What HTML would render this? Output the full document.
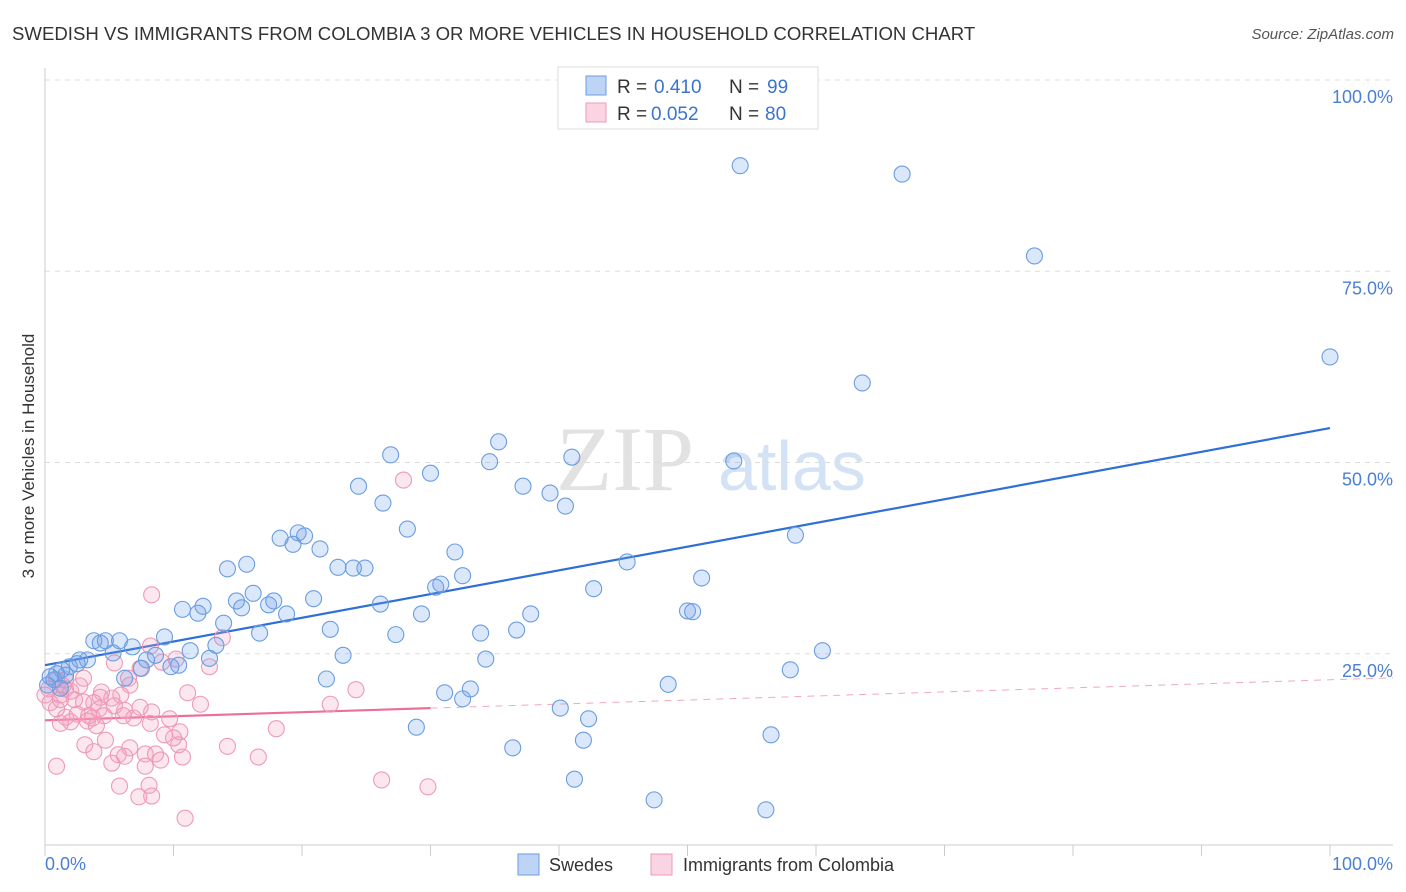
<!DOCTYPE html>
<html><head><meta charset="utf-8"><style>
body{margin:0;background:#fff;font-family:"Liberation Sans",sans-serif;}
svg{display:block}
</style></head><body>
<svg id="chart" width="1406" height="892" xmlns="http://www.w3.org/2000/svg">
<text x="12" y="40" font-size="18.6" fill="#333">SWEDISH VS IMMIGRANTS FROM COLOMBIA 3 OR MORE VEHICLES IN HOUSEHOLD CORRELATION CHART</text>
<text x="1394" y="39" font-size="15" fill="#555" font-style="italic" text-anchor="end">Source: ZipAtlas.com</text>
<g>
<text x="556" y="490" font-size="92" fill="#e2e2e2" font-family="Liberation Serif,serif">ZIP</text>
<text x="718" y="490" font-size="70" fill="#d3e2f5">atlas</text>
</g>
<g id="grid"></g><g id="axes"></g><g id="trends"></g><g id="points"></g>
<text transform="translate(34,456) rotate(-90)" font-size="17" fill="#333" text-anchor="middle">3 or more Vehicles in Household</text>
<g>
<rect x="558" y="67" width="260" height="62" fill="#fff" stroke="#ddd"/>
<rect x="586" y="76" width="20" height="19" fill="rgba(110,160,235,0.45)" stroke="#6a9de0"/>
<rect x="586" y="103" width="20" height="19" fill="rgba(245,160,190,0.45)" stroke="#ee9ab5"/>
<text x="617" y="93" font-size="19" fill="#333">R =</text>
<text x="654" y="93" font-size="19" fill="#3a74d0">0.410</text>
<text x="729" y="93" font-size="19" fill="#333">N =</text>
<text x="767" y="93" font-size="19" fill="#3a74d0">99</text>
<text x="617" y="120" font-size="19" fill="#333">R =</text>
<text x="651" y="120" font-size="19" fill="#3a74d0">0.052</text>
<text x="729" y="120" font-size="19" fill="#333">N =</text>
<text x="765" y="120" font-size="19" fill="#3a74d0">80</text>
</g>
<g>
<rect x="518" y="854" width="21" height="21" fill="rgba(110,160,235,0.45)" stroke="#6a9de0"/>
<text x="549" y="871" font-size="18" fill="#333">Swedes</text>
<rect x="651" y="854" width="21" height="21" fill="rgba(245,160,190,0.45)" stroke="#ee9ab5"/>
<text x="683" y="871" font-size="18" fill="#333">Immigrants from Colombia</text>
</g>
</svg>
<script>
const blueX=[54.1,66.7,77.0,100,63.6,35.3,26.9,34.6,41.0,30.0,53.6,37.2,24.4,39.3,26.3,40.5,28.2,18.3,19.7,20.2,19.3,21.4,31.9,45.3,58.4,15.7,14.2,22.8,24.0,24.9,32.5,30.8,30.4,51.1,42.7,16.2,14.9,17.8,17.4,20.9,26.1,10.7,12.3,11.9,18.8,15.3,29.3,37.8,50.0,50.4,13.9,22.2,16.7,36.7,27.3,33.9,3.8,4.7,5.8,4.3,6.8,9.3,5.3,13.3,11.3,8.6,23.2,34.3,7.9,12.8,10.4,7.5,9.8,1.3,1.9,2.7,3.3,2.5,0.9,0.4,1.6,0.2,6.2,58.0,60.5,21.9,48.5,33.1,31.1,32.5,40.1,42.3,28.9,41.9,36.4,56.5,41.2,47.4,56.1,0.7,1.2];
const blueY=[88.8,87.7,77.0,63.8,60.4,52.7,51.0,50.1,50.7,48.6,50.2,46.9,46.9,46.0,44.7,44.3,41.3,40.1,40.8,40.4,39.3,38.7,38.3,37.0,40.5,36.7,36.1,36.3,36.2,36.2,35.2,34.1,33.7,34.9,33.5,32.9,31.9,31.9,31.4,32.2,31.5,30.8,31.2,30.3,30.2,31.0,30.2,30.2,30.6,30.5,29.0,28.2,27.7,28.1,27.5,27.7,26.7,26.7,26.7,26.4,25.9,27.2,25.1,26.1,25.4,24.8,24.8,24.3,24.2,24.4,23.5,23.1,23.3,22.9,23.3,24.2,24.2,23.7,22.4,22.0,22.2,20.9,21.8,22.9,25.4,21.7,21.0,20.4,19.9,19.1,17.9,16.5,15.4,13.7,12.7,14.4,8.6,5.9,4.6,21.6,20.5];
const pinkX=[27.9,8.3,13.8,8.2,10.2,9.1,12.8,7.4,6.5,3.0,0.9,1.4,1.6,0.3,2.0,1.2,6.6,4.4,5.9,5.2,11.1,24.2,2.3,3.0,3.8,4.2,12.1,22.2,5.4,6.2,8.3,0.4,0.9,3.4,4.6,2.5,1.6,2.0,1.2,3.3,9.7,4.0,6.9,6.1,8.2,18.0,10.5,9.3,10.0,4.7,3.1,10.4,14.2,6.6,3.8,7.8,8.6,5.7,5.2,6.2,9.0,10.7,16.6,0.9,7.8,5.8,8.1,8.3,7.3,26.2,29.8,10.9,3.7,7.4,5.4,1.6,2.7,4.3,1.2,0];
const pinkY=[47.7,32.7,27.1,26.0,24.3,23.9,23.3,23.1,21.8,21.8,21.6,20.8,20.4,20.4,20.1,19.6,20.9,20.0,19.6,19.2,19.9,20.3,19.0,18.7,18.6,17.8,18.4,18.4,18.2,17.6,17.4,18.6,17.8,16.9,16.9,17.1,16.7,16.1,15.9,16.2,16.5,15.6,16.6,16.9,15.9,15.2,14.8,14.4,14.0,13.7,13.1,13.1,12.9,12.7,12.2,11.9,11.9,11.8,10.7,11.6,11.1,11.5,11.5,10.3,10.3,7.7,7.8,6.4,6.3,8.5,7.6,3.5,16.6,18.0,23.8,21.6,20.8,19.3,19.0,19.6];
const yTicks=[100,75,50,25];
const yTickLabels=["100.0%","75.0%","50.0%","25.0%"];
const xEdgeLabels=["0.0%","100.0%"];
const blueTrend=[23.5,54.5];
const pinkTrend=[16.3,21.6];

const NS="http://www.w3.org/2000/svg";
const X=v=>45+v*12.85, Y=v=>845-v*7.65;
function mk(parent,tag,attrs){const e=document.createElementNS(NS,tag);for(const k in attrs)e.setAttribute(k,attrs[k]);document.getElementById(parent).appendChild(e);return e;}
yTicks.forEach((t,i)=>{
  const l=mk('grid','line',{x1:45,x2:1393,y1:Y(t),y2:Y(t),stroke:'#ddd','stroke-dasharray':'5,5'});
  
  
  const tx=mk('grid','text',{x:1393,y:Y(t)+23,'font-size':18,fill:'#4a7fd4','text-anchor':'end'});
  tx.textContent=yTickLabels[i];
  
  
});
let a=mk('axes','line',{x1:45,x2:45,y1:68,y2:845,stroke:'#ccc'});


a=mk('axes','line',{x1:45,x2:1393,y1:845,y2:845,stroke:'#ccc'});


for(let i=0;i<=10;i++){
  const t=mk('axes','line',{x1:X(i*10),x2:X(i*10),y1:845,y2:856,stroke:'#ccc'});
  
  
}
[[0,'start',45],[100,'end',1393]].forEach((d,i)=>{
  const t=mk('axes','text',{x:d[2],y:870,'font-size':18,fill:'#4a7fd4','text-anchor':d[1]});
  t.textContent=xEdgeLabels[i];
  
  
});
const bt=v=>blueTrend[0]+(blueTrend[1]-blueTrend[0])*v/100;
const pt=v=>pinkTrend[0]+(pinkTrend[1]-pinkTrend[0])*v/100;
let tl=mk('trends','line',{x1:X(0),y1:Y(bt(0)),x2:X(100),y2:Y(bt(100)),stroke:'#2f6fd6','stroke-width':2.2});


tl=mk('trends','line',{x1:X(0),y1:Y(pt(0)),x2:X(30),y2:Y(pt(30)),stroke:'#ec6f9a','stroke-width':2.2});


tl=mk('trends','line',{x1:X(30),y1:Y(pt(30)),x2:X(104.9),y2:Y(pt(104.9)),stroke:'#f0a8c0','stroke-width':1,'stroke-dasharray':'7,6'});


pinkX.forEach((v,i)=>{
  const c=mk('points','circle',{cx:X(v),cy:Y(pinkY[i]),r:8,fill:'rgba(245,160,190,0.25)',stroke:'#ee9ab5','stroke-width':1.1});
  
  
});
blueX.forEach((v,i)=>{
  const c=mk('points','circle',{cx:X(v),cy:Y(blueY[i]),r:8,fill:'rgba(110,160,235,0.25)',stroke:'#6a9de0','stroke-width':1.1});
  
  
});
</script>
</body></html>
